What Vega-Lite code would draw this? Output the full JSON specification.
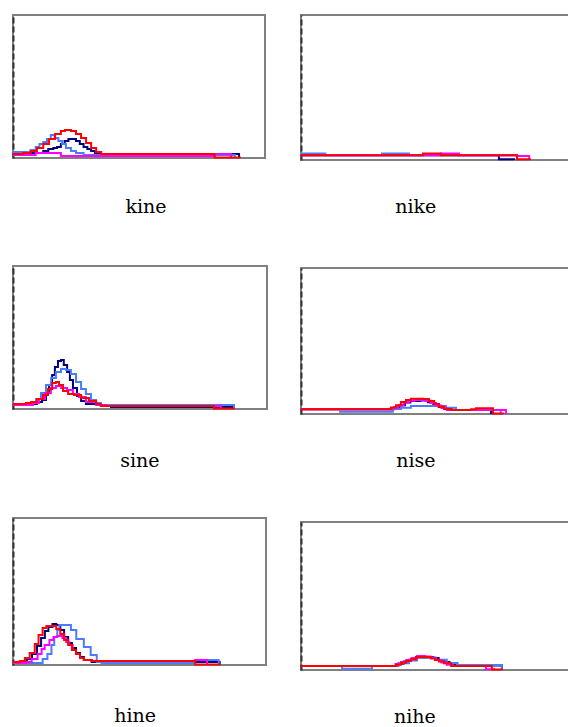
{
"$schema": "https://vega.github.io/schema/vega-lite/v6.json",
"padding": {"left": 7, "top": 14, "right": 0, "bottom": 0},
"background": "white",
"config": {
  "view": {"stroke": "#808080", "strokeWidth": 2},
  "axisX": {"domain": false, "ticks": false, "labels": false, "grid": false, "titleFont": "DejaVu Serif", "titleFontSize": 19, "titleFontWeight": "normal", "titleColor": "black", "titleBaseline": "alphabetic", "titleAlign": "center", "titleAnchor": "start"},
  "axisY": {"domain": true, "domainDash": [6, 3], "domainColor": "#333333", "domainWidth": 2, "ticks": false, "labels": false, "grid": false, "title": null},
  "line": {"interpolate": "step-after", "strokeWidth": 2}
},
"datasets": {"d": [
{"p":1,"s":"s1","x":0,"y":3.5},{"p":1,"s":"s1","x":8,"y":3.5},{"p":1,"s":"s1","x":12,"y":4.9},{"p":1,"s":"s1","x":14,"y":6.3},{"p":1,"s":"s1","x":16,"y":7},{"p":1,"s":"s1","x":17.5,"y":7.7},{"p":1,"s":"s1","x":19,"y":9.8},{"p":1,"s":"s1","x":20.5,"y":11.9},{"p":1,"s":"s1","x":22,"y":13.3},{"p":1,"s":"s1","x":23.5,"y":13.3},{"p":1,"s":"s1","x":25,"y":11.9},{"p":1,"s":"s1","x":26.5,"y":9.8},{"p":1,"s":"s1","x":28,"y":7.7},{"p":1,"s":"s1","x":29.5,"y":6.3},{"p":1,"s":"s1","x":31,"y":4.9},{"p":1,"s":"s1","x":32.5,"y":3.5},{"p":1,"s":"s1","x":34,"y":2.8},{"p":1,"s":"s1","x":89.7,"y":0},
{"p":1,"s":"s2","x":0,"y":4.2},{"p":1,"s":"s2","x":5,"y":4.2},{"p":1,"s":"s2","x":7,"y":5.6},{"p":1,"s":"s2","x":9,"y":7.7},{"p":1,"s":"s2","x":10.5,"y":9.8},{"p":1,"s":"s2","x":12,"y":11.2},{"p":1,"s":"s2","x":13.5,"y":13.3},{"p":1,"s":"s2","x":15,"y":16},{"p":1,"s":"s2","x":16.5,"y":14},{"p":1,"s":"s2","x":18,"y":11.9},{"p":1,"s":"s2","x":19.5,"y":9.8},{"p":1,"s":"s2","x":21,"y":7},{"p":1,"s":"s2","x":23,"y":4.9},{"p":1,"s":"s2","x":25,"y":3.5},{"p":1,"s":"s2","x":28,"y":2.1},{"p":1,"s":"s2","x":88,"y":0},
{"p":1,"s":"s3","x":0,"y":2.1},{"p":1,"s":"s3","x":9,"y":3.5},{"p":1,"s":"s3","x":19,"y":1.4},{"p":1,"s":"s3","x":80,"y":2.8},{"p":1,"s":"s3","x":86.5,"y":0},
{"p":1,"s":"s4","x":0,"y":2.8},{"p":1,"s":"s4","x":4,"y":3.5},{"p":1,"s":"s4","x":7,"y":4.9},{"p":1,"s":"s4","x":9.5,"y":7},{"p":1,"s":"s4","x":12,"y":9.8},{"p":1,"s":"s4","x":14.3,"y":13.3},{"p":1,"s":"s4","x":16.7,"y":16.8},{"p":1,"s":"s4","x":19,"y":18.9},{"p":1,"s":"s4","x":20.6,"y":19.6},{"p":1,"s":"s4","x":23,"y":18.9},{"p":1,"s":"s4","x":25,"y":16.8},{"p":1,"s":"s4","x":27,"y":14},{"p":1,"s":"s4","x":29,"y":10.5},{"p":1,"s":"s4","x":31,"y":7},{"p":1,"s":"s4","x":33,"y":4.2},{"p":1,"s":"s4","x":35,"y":2.8},{"p":1,"s":"s4","x":80,"y":0.4},{"p":1,"s":"s4","x":90,"y":0},
{"p":2,"s":"s1","x":0,"y":3.3},{"p":2,"s":"s1","x":73.3,"y":0.5},{"p":2,"s":"s1","x":78.9,"y":0},
{"p":2,"s":"s2","x":0,"y":4.4},{"p":2,"s":"s2","x":9,"y":3.3},{"p":2,"s":"s2","x":30,"y":4.4},{"p":2,"s":"s2","x":40,"y":3.3},{"p":2,"s":"s2","x":80,"y":0},
{"p":2,"s":"s3","x":0,"y":3.3},{"p":2,"s":"s3","x":51.8,"y":4.4},{"p":2,"s":"s3","x":58.5,"y":3.3},{"p":2,"s":"s3","x":80,"y":2.8},{"p":2,"s":"s3","x":84.5,"y":0},
{"p":2,"s":"s4","x":0,"y":3.3},{"p":2,"s":"s4","x":45.2,"y":4.4},{"p":2,"s":"s4","x":51.8,"y":3.3},{"p":2,"s":"s4","x":80,"y":0.5},{"p":2,"s":"s4","x":84.8,"y":0},
{"p":3,"s":"s1","x":0,"y":3.5},{"p":3,"s":"s1","x":7.1,"y":3.5},{"p":3,"s":"s1","x":9.4,"y":4.9},{"p":3,"s":"s1","x":11.4,"y":6.3},{"p":3,"s":"s1","x":13,"y":11.2},{"p":3,"s":"s1","x":14.2,"y":16.8},{"p":3,"s":"s1","x":15.4,"y":23.8},{"p":3,"s":"s1","x":16.5,"y":29.4},{"p":3,"s":"s1","x":17.7,"y":33.6},{"p":3,"s":"s1","x":18.9,"y":34.3},{"p":3,"s":"s1","x":20,"y":30.8},{"p":3,"s":"s1","x":21.3,"y":25.9},{"p":3,"s":"s1","x":22.4,"y":20.3},{"p":3,"s":"s1","x":23.6,"y":14.7},{"p":3,"s":"s1","x":25.2,"y":9.1},{"p":3,"s":"s1","x":26.8,"y":5.6},{"p":3,"s":"s1","x":28.7,"y":3.5},{"p":3,"s":"s1","x":34.6,"y":2.1},{"p":3,"s":"s1","x":38.6,"y":1.4},{"p":3,"s":"s1","x":87,"y":0},
{"p":3,"s":"s2","x":0,"y":3.5},{"p":3,"s":"s2","x":5.1,"y":3.5},{"p":3,"s":"s2","x":7.1,"y":4.2},{"p":3,"s":"s2","x":9.1,"y":7},{"p":3,"s":"s2","x":11,"y":11.2},{"p":3,"s":"s2","x":13,"y":16.8},{"p":3,"s":"s2","x":15,"y":21.7},{"p":3,"s":"s2","x":16.9,"y":25.9},{"p":3,"s":"s2","x":18.9,"y":28},{"p":3,"s":"s2","x":20.9,"y":27.3},{"p":3,"s":"s2","x":22.8,"y":24.5},{"p":3,"s":"s2","x":24.8,"y":18.9},{"p":3,"s":"s2","x":26.8,"y":14},{"p":3,"s":"s2","x":28.7,"y":10.5},{"p":3,"s":"s2","x":30.7,"y":6.3},{"p":3,"s":"s2","x":32.7,"y":4.2},{"p":3,"s":"s2","x":34.6,"y":2.8},{"p":3,"s":"s2","x":87,"y":0},
{"p":3,"s":"s3","x":0,"y":2.8},{"p":3,"s":"s3","x":5.1,"y":2.8},{"p":3,"s":"s3","x":7.9,"y":4.2},{"p":3,"s":"s3","x":10.2,"y":7},{"p":3,"s":"s3","x":12.6,"y":11.2},{"p":3,"s":"s3","x":14.9,"y":14.7},{"p":3,"s":"s3","x":16.9,"y":16.1},{"p":3,"s":"s3","x":18.9,"y":14.7},{"p":3,"s":"s3","x":21.3,"y":13.3},{"p":3,"s":"s3","x":23.6,"y":10.5},{"p":3,"s":"s3","x":26,"y":8.4},{"p":3,"s":"s3","x":28.7,"y":4.9},{"p":3,"s":"s3","x":32.7,"y":2.8},{"p":3,"s":"s3","x":36.6,"y":2.1},{"p":3,"s":"s3","x":81.9,"y":0},
{"p":3,"s":"s4","x":0,"y":3.5},{"p":3,"s":"s4","x":3.1,"y":3.5},{"p":3,"s":"s4","x":5.1,"y":4.2},{"p":3,"s":"s4","x":7.1,"y":4.9},{"p":3,"s":"s4","x":9.4,"y":7},{"p":3,"s":"s4","x":11.8,"y":9.8},{"p":3,"s":"s4","x":13.8,"y":14},{"p":3,"s":"s4","x":15.4,"y":18.2},{"p":3,"s":"s4","x":16.9,"y":18.9},{"p":3,"s":"s4","x":18.1,"y":16.8},{"p":3,"s":"s4","x":19.7,"y":12.6},{"p":3,"s":"s4","x":21.7,"y":10.5},{"p":3,"s":"s4","x":24,"y":9.8},{"p":3,"s":"s4","x":26.8,"y":7.7},{"p":3,"s":"s4","x":29.9,"y":5.6},{"p":3,"s":"s4","x":32.7,"y":3.5},{"p":3,"s":"s4","x":34.6,"y":2.1},{"p":3,"s":"s4","x":79.1,"y":0.3},{"p":3,"s":"s4","x":87,"y":0},
{"p":4,"s":"s1","x":0,"y":3.2},{"p":4,"s":"s1","x":32,"y":3.2},{"p":4,"s":"s1","x":34.5,"y":4.5},{"p":4,"s":"s1","x":36.5,"y":6},{"p":4,"s":"s1","x":38.5,"y":7.8},{"p":4,"s":"s1","x":40.5,"y":8.9},{"p":4,"s":"s1","x":44,"y":9.2},{"p":4,"s":"s1","x":47,"y":8},{"p":4,"s":"s1","x":49,"y":6.3},{"p":4,"s":"s1","x":51,"y":4.8},{"p":4,"s":"s1","x":53,"y":3.4},{"p":4,"s":"s1","x":56,"y":2.7},{"p":4,"s":"s1","x":70.4,"y":0},
{"p":4,"s":"s2","x":14.1,"y":1.6},{"p":4,"s":"s2","x":34,"y":3.4},{"p":4,"s":"s2","x":37,"y":4.3},{"p":4,"s":"s2","x":40.7,"y":5.5},{"p":4,"s":"s2","x":48.1,"y":5.5},{"p":4,"s":"s2","x":53.7,"y":4.3},{"p":4,"s":"s2","x":57.4,"y":2.7},{"p":4,"s":"s2","x":74,"y":0},
{"p":4,"s":"s3","x":0,"y":3.2},{"p":4,"s":"s3","x":32,"y":3.2},{"p":4,"s":"s3","x":34,"y":4.3},{"p":4,"s":"s3","x":36,"y":5.8},{"p":4,"s":"s3","x":38,"y":7.8},{"p":4,"s":"s3","x":40,"y":9},{"p":4,"s":"s3","x":42,"y":9.6},{"p":4,"s":"s3","x":46,"y":9},{"p":4,"s":"s3","x":48,"y":7.5},{"p":4,"s":"s3","x":50,"y":5.8},{"p":4,"s":"s3","x":52,"y":4.1},{"p":4,"s":"s3","x":54,"y":2.7},{"p":4,"s":"s3","x":71.1,"y":2.7},{"p":4,"s":"s3","x":75.9,"y":0},
{"p":4,"s":"s4","x":0,"y":3.2},{"p":4,"s":"s4","x":31.5,"y":3.2},{"p":4,"s":"s4","x":33.3,"y":4.5},{"p":4,"s":"s4","x":35.2,"y":6},{"p":4,"s":"s4","x":37,"y":8.2},{"p":4,"s":"s4","x":38.9,"y":9.6},{"p":4,"s":"s4","x":40.7,"y":10.5},{"p":4,"s":"s4","x":45.2,"y":10.3},{"p":4,"s":"s4","x":47.4,"y":8.9},{"p":4,"s":"s4","x":49.3,"y":6.8},{"p":4,"s":"s4","x":51.1,"y":5},{"p":4,"s":"s4","x":53,"y":3.4},{"p":4,"s":"s4","x":55.6,"y":2.7},{"p":4,"s":"s4","x":63,"y":3.2},{"p":4,"s":"s4","x":64.8,"y":4},{"p":4,"s":"s4","x":71.1,"y":0.3},{"p":4,"s":"s4","x":74.8,"y":0},
{"p":5,"s":"s1","x":0,"y":2},{"p":5,"s":"s1","x":3.5,"y":2.7},{"p":5,"s":"s1","x":5.5,"y":4.1},{"p":5,"s":"s1","x":7.5,"y":7.5},{"p":5,"s":"s1","x":9.5,"y":12.9},{"p":5,"s":"s1","x":11.1,"y":18.4},{"p":5,"s":"s1","x":12.6,"y":23.1},{"p":5,"s":"s1","x":14,"y":25.9},{"p":5,"s":"s1","x":15.6,"y":27.9},{"p":5,"s":"s1","x":17.1,"y":27.2},{"p":5,"s":"s1","x":18.7,"y":23.8},{"p":5,"s":"s1","x":20.2,"y":19},{"p":5,"s":"s1","x":21.8,"y":15},{"p":5,"s":"s1","x":23.3,"y":11.6},{"p":5,"s":"s1","x":24.9,"y":8.2},{"p":5,"s":"s1","x":26.5,"y":5.4},{"p":5,"s":"s1","x":28,"y":3.4},{"p":5,"s":"s1","x":31.1,"y":2},{"p":5,"s":"s1","x":81.7,"y":0},
{"p":5,"s":"s2","x":0,"y":1.4},{"p":5,"s":"s2","x":8,"y":1.4},{"p":5,"s":"s2","x":11.7,"y":4},{"p":5,"s":"s2","x":13.6,"y":7.5},{"p":5,"s":"s2","x":15.2,"y":13.6},{"p":5,"s":"s2","x":16.3,"y":19},{"p":5,"s":"s2","x":17.5,"y":23.8},{"p":5,"s":"s2","x":18.3,"y":27.2},{"p":5,"s":"s2","x":21.4,"y":27.2},{"p":5,"s":"s2","x":22.9,"y":23.8},{"p":5,"s":"s2","x":25,"y":17.7},{"p":5,"s":"s2","x":28,"y":12.2},{"p":5,"s":"s2","x":30.7,"y":6.8},{"p":5,"s":"s2","x":33.1,"y":2},{"p":5,"s":"s2","x":35,"y":1.4},{"p":5,"s":"s2","x":72,"y":3.4},{"p":5,"s":"s2","x":81.3,"y":0},
{"p":5,"s":"s3","x":0,"y":1.4},{"p":5,"s":"s3","x":5.4,"y":2},{"p":5,"s":"s3","x":7.4,"y":4.1},{"p":5,"s":"s3","x":9.7,"y":7.5},{"p":5,"s":"s3","x":11.3,"y":10.9},{"p":5,"s":"s3","x":12.5,"y":13.6},{"p":5,"s":"s3","x":14.4,"y":17},{"p":5,"s":"s3","x":16,"y":19},{"p":5,"s":"s3","x":17.5,"y":19.7},{"p":5,"s":"s3","x":19.5,"y":18.4},{"p":5,"s":"s3","x":21,"y":15.6},{"p":5,"s":"s3","x":22.2,"y":13.6},{"p":5,"s":"s3","x":23.6,"y":10.2},{"p":5,"s":"s3","x":24.9,"y":7.5},{"p":5,"s":"s3","x":26.5,"y":4.8},{"p":5,"s":"s3","x":28,"y":3.4},{"p":5,"s":"s3","x":31,"y":2.7},{"p":5,"s":"s3","x":72,"y":3.4},{"p":5,"s":"s3","x":76.7,"y":0},
{"p":5,"s":"s4","x":0,"y":2},{"p":5,"s":"s4","x":2.7,"y":2.7},{"p":5,"s":"s4","x":4.7,"y":4.8},{"p":5,"s":"s4","x":6.6,"y":8.2},{"p":5,"s":"s4","x":8.6,"y":14.3},{"p":5,"s":"s4","x":10.1,"y":20.4},{"p":5,"s":"s4","x":11.7,"y":25.2},{"p":5,"s":"s4","x":13.2,"y":26.5},{"p":5,"s":"s4","x":15.6,"y":26.5},{"p":5,"s":"s4","x":17.1,"y":24.5},{"p":5,"s":"s4","x":18.7,"y":21.1},{"p":5,"s":"s4","x":20.2,"y":17},{"p":5,"s":"s4","x":21.8,"y":13.6},{"p":5,"s":"s4","x":23.3,"y":10.2},{"p":5,"s":"s4","x":24.9,"y":7.5},{"p":5,"s":"s4","x":26.5,"y":4.8},{"p":5,"s":"s4","x":28,"y":3.4},{"p":5,"s":"s4","x":31.1,"y":2.7},{"p":5,"s":"s4","x":72,"y":0.3},{"p":5,"s":"s4","x":81.7,"y":0},
{"p":6,"s":"s1","x":0,"y":2.7},{"p":6,"s":"s1","x":33.5,"y":2.7},{"p":6,"s":"s1","x":36,"y":4.3},{"p":6,"s":"s1","x":38,"y":5.7},{"p":6,"s":"s1","x":40,"y":6.9},{"p":6,"s":"s1","x":42.5,"y":8.4},{"p":6,"s":"s1","x":47,"y":8.8},{"p":6,"s":"s1","x":49,"y":8.1},{"p":6,"s":"s1","x":51,"y":6.8},{"p":6,"s":"s1","x":53,"y":5.4},{"p":6,"s":"s1","x":55,"y":4.2},{"p":6,"s":"s1","x":57,"y":3},{"p":6,"s":"s1","x":74.4,"y":0},
{"p":6,"s":"s2","x":0,"y":2.7},{"p":6,"s":"s2","x":15.2,"y":0.9},{"p":6,"s":"s2","x":26.3,"y":2.7},{"p":6,"s":"s2","x":36,"y":4.6},{"p":6,"s":"s2","x":40,"y":6.5},{"p":6,"s":"s2","x":43,"y":8.4},{"p":6,"s":"s2","x":47,"y":8.4},{"p":6,"s":"s2","x":50,"y":7},{"p":6,"s":"s2","x":54,"y":4.7},{"p":6,"s":"s2","x":58,"y":3.4},{"p":6,"s":"s2","x":74.4,"y":0},
{"p":6,"s":"s3","x":0,"y":2.7},{"p":6,"s":"s3","x":33,"y":2.7},{"p":6,"s":"s3","x":35,"y":4},{"p":6,"s":"s3","x":37,"y":5.4},{"p":6,"s":"s3","x":39,"y":6.8},{"p":6,"s":"s3","x":41,"y":8.1},{"p":6,"s":"s3","x":43,"y":9.5},{"p":6,"s":"s3","x":46,"y":9.1},{"p":6,"s":"s3","x":48,"y":8.1},{"p":6,"s":"s3","x":50,"y":6.8},{"p":6,"s":"s3","x":52,"y":5.1},{"p":6,"s":"s3","x":54,"y":3.6},{"p":6,"s":"s3","x":56,"y":2.7},{"p":6,"s":"s3","x":68.5,"y":0.5},{"p":6,"s":"s3","x":71.5,"y":0},
{"p":6,"s":"s4","x":0,"y":2.7},{"p":6,"s":"s4","x":33.3,"y":2.7},{"p":6,"s":"s4","x":35.2,"y":3.6},{"p":6,"s":"s4","x":37,"y":4.9},{"p":6,"s":"s4","x":38.9,"y":6.1},{"p":6,"s":"s4","x":40.7,"y":7.2},{"p":6,"s":"s4","x":42.6,"y":8.8},{"p":6,"s":"s4","x":46.7,"y":8.8},{"p":6,"s":"s4","x":48.1,"y":7.8},{"p":6,"s":"s4","x":49.6,"y":6.8},{"p":6,"s":"s4","x":51.1,"y":5.7},{"p":6,"s":"s4","x":53,"y":4.5},{"p":6,"s":"s4","x":55.6,"y":2.7},{"p":6,"s":"s4","x":70.7,"y":0.3},{"p":6,"s":"s4","x":74.4,"y":0}
]},
"spacing": 28,
"hconcat": [
 {"spacing": 36, "vconcat": [
  {"width": 252, "height": 143, "data": {"name": "d"}, "transform": [{"filter": "datum.p == 1"}],
   "mark": {"type": "line"},
   "encoding": {
    "x": {"field": "x", "type": "quantitative", "scale": {"domain": [0, 100], "nice": false}, "axis": {"title": "kine", "titleX": 132.5, "titleY": 54.3, "minExtent": 70, "maxExtent": 70}},
    "y": {"field": "y", "type": "quantitative", "scale": {"domain": [0, 100], "nice": false}, "axis": {"minExtent": 5, "maxExtent": 5}},
    "color": {"field": "s", "type": "nominal", "scale": {"domain": ["s1", "s2", "s3", "s4"], "range": ["#000080", "#4a7cff", "#ff00ff", "#ff0000"]}, "legend": null}}},
  {"width": 254, "height": 143, "data": {"name": "d"}, "transform": [{"filter": "datum.p == 3"}],
   "mark": {"type": "line"},
   "encoding": {
    "x": {"field": "x", "type": "quantitative", "scale": {"domain": [0, 100], "nice": false}, "axis": {"title": "sine", "titleX": 126.3, "titleY": 57.7, "minExtent": 71, "maxExtent": 71}},
    "y": {"field": "y", "type": "quantitative", "scale": {"domain": [0, 100], "nice": false}, "axis": {"minExtent": 5, "maxExtent": 5}},
    "color": {"field": "s", "type": "nominal", "scale": {"domain": ["s1", "s2", "s3", "s4"], "range": ["#000080", "#4a7cff", "#ff00ff", "#ff0000"]}, "legend": null}}},
  {"width": 253, "height": 147, "data": {"name": "d"}, "transform": [{"filter": "datum.p == 5"}],
   "mark": {"type": "line"},
   "encoding": {
    "x": {"field": "x", "type": "quantitative", "scale": {"domain": [0, 100], "nice": false}, "axis": {"title": "hine", "titleX": 121.7, "titleY": 56.7, "minExtent": 62, "maxExtent": 62}},
    "y": {"field": "y", "type": "quantitative", "scale": {"domain": [0, 100], "nice": false}, "axis": {"minExtent": 5, "maxExtent": 5}},
    "color": {"field": "s", "type": "nominal", "scale": {"domain": ["s1", "s2", "s3", "s4"], "range": ["#000080", "#4a7cff", "#ff00ff", "#ff0000"]}, "legend": null}}}
 ]},
 {"spacing": 36, "vconcat": [
  {"width": 270, "height": 145, "data": {"name": "d"}, "transform": [{"filter": "datum.p == 2"}],
   "mark": {"type": "line"},
   "encoding": {
    "x": {"field": "x", "type": "quantitative", "scale": {"domain": [0, 100], "nice": false}, "axis": {"title": "nike", "titleX": 114.3, "titleY": 52.3, "minExtent": 70, "maxExtent": 70}},
    "y": {"field": "y", "type": "quantitative", "scale": {"domain": [0, 100], "nice": false}, "axis": {"minExtent": 3, "maxExtent": 3}},
    "color": {"field": "s", "type": "nominal", "scale": {"domain": ["s1", "s2", "s3", "s4"], "range": ["#000080", "#4a7cff", "#ff00ff", "#ff0000"]}, "legend": null}}},
  {"width": 270, "height": 146, "data": {"name": "d"}, "transform": [{"filter": "datum.p == 4"}],
   "mark": {"type": "line"},
   "encoding": {
    "x": {"field": "x", "type": "quantitative", "scale": {"domain": [0, 100], "nice": false}, "axis": {"title": "nise", "titleX": 114.3, "titleY": 52.7, "minExtent": 70, "maxExtent": 70}},
    "y": {"field": "y", "type": "quantitative", "scale": {"domain": [0, 100], "nice": false}, "axis": {"minExtent": 3, "maxExtent": 3}},
    "color": {"field": "s", "type": "nominal", "scale": {"domain": ["s1", "s2", "s3", "s4"], "range": ["#000080", "#4a7cff", "#ff00ff", "#ff0000"]}, "legend": null}}},
  {"width": 270, "height": 148, "data": {"name": "d"}, "transform": [{"filter": "datum.p == 6"}],
   "mark": {"type": "line"},
   "encoding": {
    "x": {"field": "x", "type": "quantitative", "scale": {"domain": [0, 100], "nice": false}, "axis": {"title": "nihe", "titleX": 113.3, "titleY": 52.7, "minExtent": 62, "maxExtent": 62}},
    "y": {"field": "y", "type": "quantitative", "scale": {"domain": [0, 100], "nice": false}, "axis": {"minExtent": 3, "maxExtent": 3}},
    "color": {"field": "s", "type": "nominal", "scale": {"domain": ["s1", "s2", "s3", "s4"], "range": ["#000080", "#4a7cff", "#ff00ff", "#ff0000"]}, "legend": null}}}
 ]}
]
}
